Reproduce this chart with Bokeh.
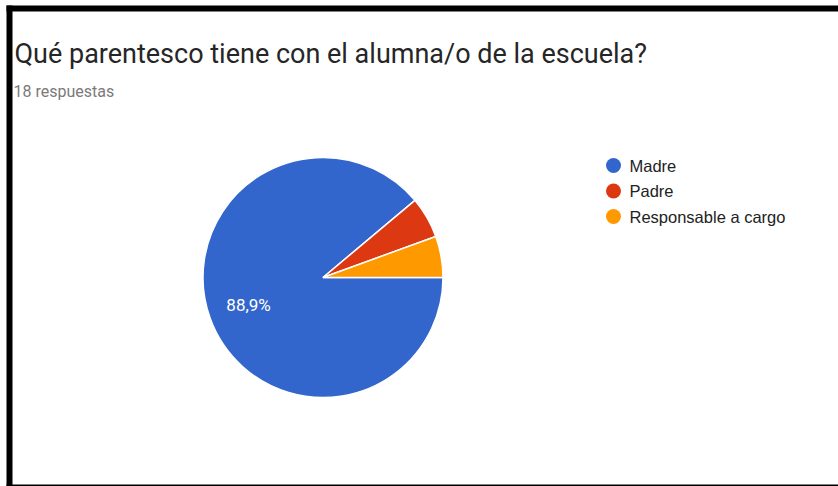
import numpy as np
from bokeh.plotting import figure
from bokeh.models import Range1d, ColumnDataSource
from bokeh.core.properties import value
from bokeh.embed import file_html
from bokeh.resources import INLINE

# ---- data ----
title_text = "Qué parentesco tiene con el alumna/o de la escuela?"
subtitle_text = "18 respuestas"
categories = ["Madre", "Padre", "Responsable a cargo"]
counts = [16, 1, 1]
colors = ["#3366cc", "#dc3912", "#ff9900"]

# ---- layout (page pixel coordinates; y flipped) ----
W, H = 838, 486
p = figure(width=W, height=H, output_backend="svg", toolbar_location=None,
           x_range=Range1d(0, W), y_range=Range1d(-H, 0),
           min_border=0, x_axis_location=None, y_axis_location=None,
           outline_line_color=None, background_fill_color="white",
           border_fill_color="white")
p.grid.visible = False

# black frame (left, top and bottom edges)
p.quad(left=[6, 6, 6], right=[12, W, W], top=[-5, -5, -484],
       bottom=[-H, -11, -H], color="black", line_color=None)

# pie
vals = np.array(counts, dtype=float)
frac = vals / vals.sum()
cum = np.cumsum(frac)
prev = cum - frac
start = 2 * np.pi * (1 - cum)
end = 2 * np.pi * (1 - prev)
cx, cy, R = 322.5, -277.0, 120.0
src = ColumnDataSource(dict(start=start, end=end, color=colors, cat=categories))
p.wedge(x=cx, y=cy, radius=R, start_angle="start", end_angle="end",
        fill_color="color", line_color="white", line_width=1.5, source=src)

# slice labels (only for large slices)
mid = (start + end) / 2
lab_x, lab_y, lab_t = [], [], []
for f, m in zip(frac, mid):
    if f >= 0.1:
        lab_x.append(cx + 0.66 * R * np.cos(m))
        lab_y.append(cy + 0.66 * R * np.sin(m))
        lab_t.append(f"{100 * f:.1f}".replace(".", ",") + "%")
p.text(x=lab_x, y=lab_y, text=lab_t, text_color="white",
       text_font=value("Roboto"), text_font_size="17px",
       text_align="center", text_baseline="middle")

# titles
p.text(x=[14], y=[-53], text=[title_text], text_color="#262626",
       text_font=value("Roboto"), text_font_size="27px",
       text_align="left", text_baseline="middle")
p.text(x=[13], y=[-91], text=[subtitle_text], text_color="#7a7a7a",
       text_font=value("Roboto"), text_font_size="16px",
       text_align="left", text_baseline="middle")

# legend
ly = [-165, -190.5, -216]
p.scatter(x=[613] * len(categories), y=ly, size=15, fill_color=colors,
          line_color=None)
p.text(x=[629] * len(categories), y=ly, text=categories, text_color="#222222",
       text_font=value("Liberation Sans"), text_font_size="16.5px",
       text_align="left", text_baseline="middle")

open("out.html", "w").write(file_html(p, INLINE))
